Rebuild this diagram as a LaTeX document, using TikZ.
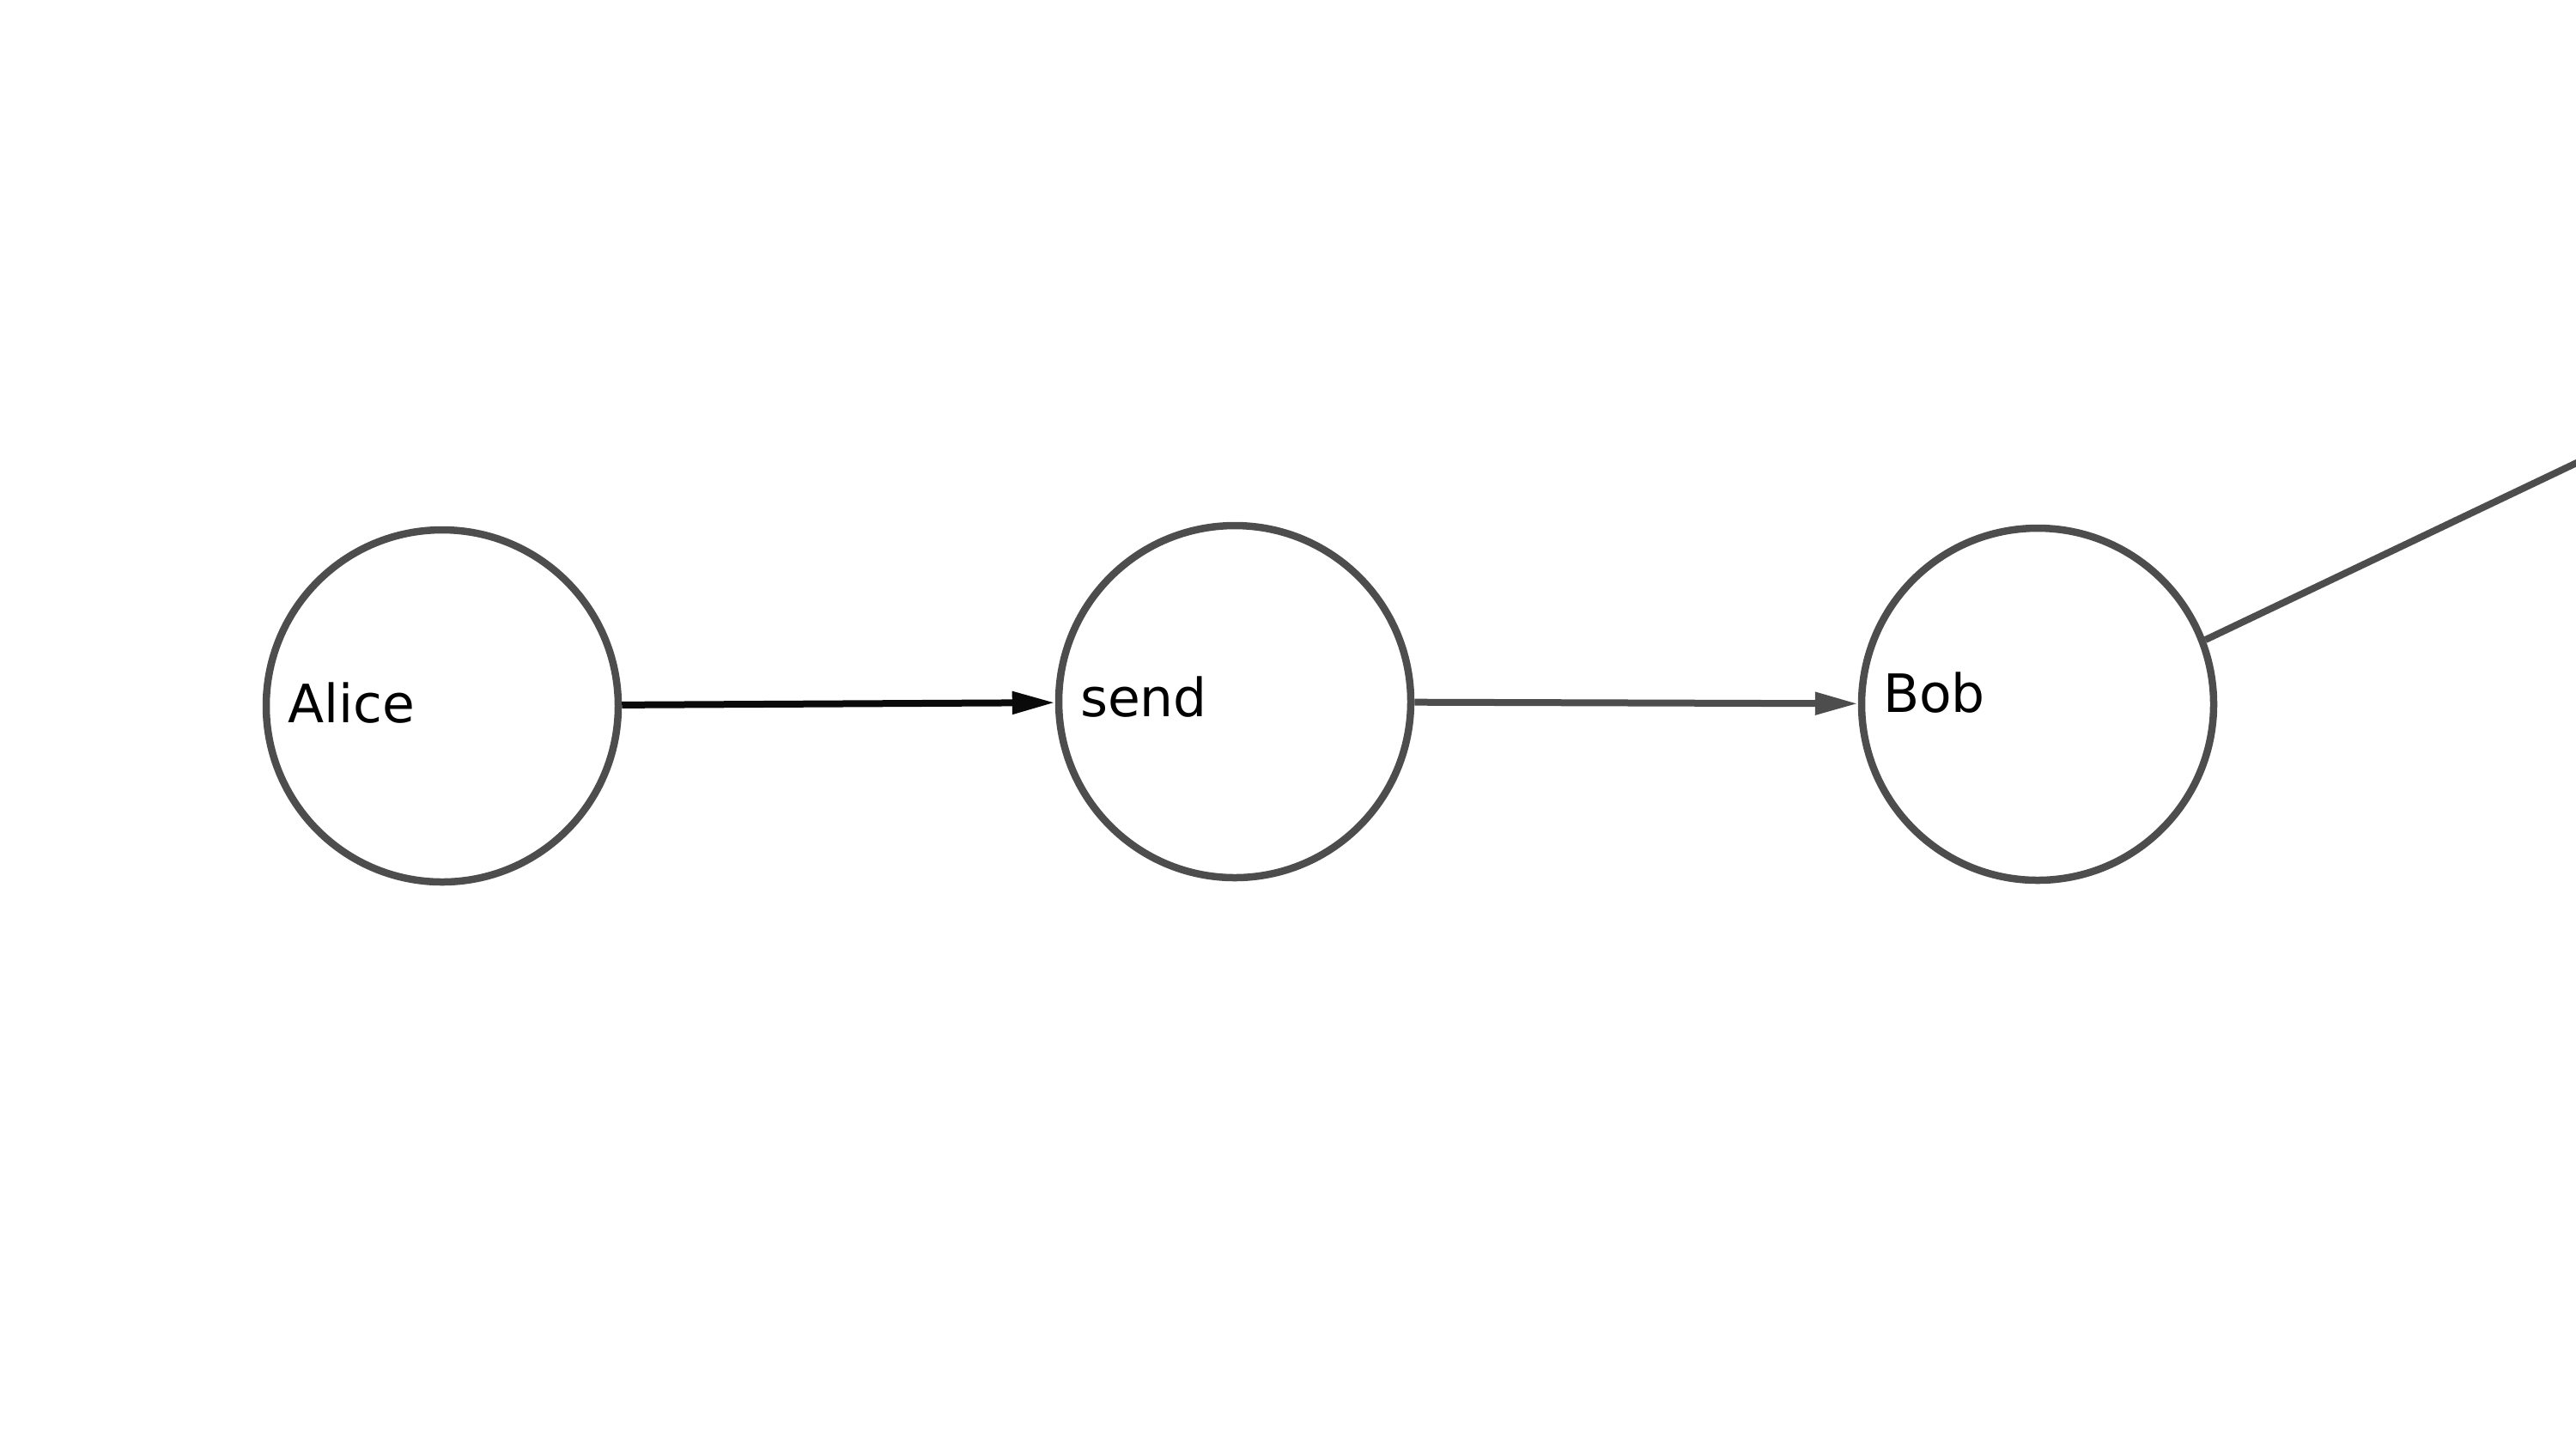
\documentclass[tikz,border=0pt]{standalone}
\usepackage{fontspec}
\setmainfont{DejaVu Sans}
\usetikzlibrary{arrows.meta}
\definecolor{edgegray}{HTML}{4D4D4D}
\definecolor{arrowblack}{HTML}{0A0A0A}
\tikzset{
  state/.style={circle, draw=edgegray, line width=0.085cm, minimum size=4.1cm,
    inner sep=0pt, text width=3.6cm, align=left, font=\fontsize{17.5pt}{20pt}\selectfont},
  conn/.style={line width=0.08cm, -{Triangle[length=0.5cm,width=0.25cm]}},
  plain/.style={line width=0.08cm, draw=edgegray}
}
\begin{document}
\begin{tikzpicture}
\useasboundingbox (0,0) rectangle (30,-16.7);
\clip (0,0) rectangle (30,-16.7);
\node[state, text depth=0.08cm] (alice) at (5.15,-8.22) {Alice};
\node[state, text depth=0.11cm] (send) at (14.38,-8.17) {send};
\node[state, text depth=0.27cm] (bob) at (23.73,-8.20) {Bob};
\coordinate (far) at (32.0,-4.44);
\draw[conn, draw=arrowblack, fill=arrowblack] (alice) -- (send);
\draw[conn, draw=edgegray, fill=edgegray] (send) -- (bob);
\draw[plain] (bob.21.5) -- (far);
\end{tikzpicture}
\end{document}
